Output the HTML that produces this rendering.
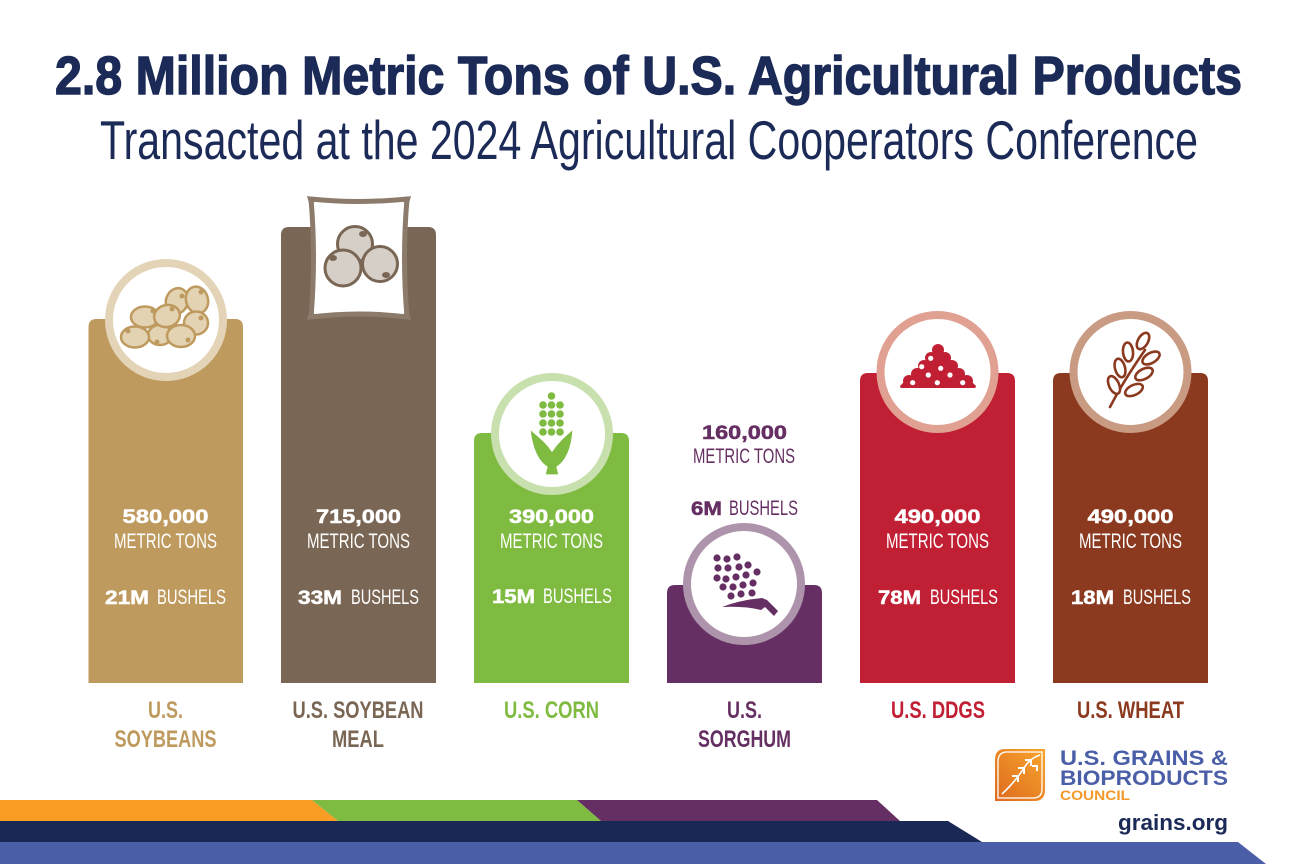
<!DOCTYPE html>
<html>
<head>
<meta charset="utf-8">
<style>
  html,body{margin:0;padding:0;background:#fff;}
  svg{display:block;}
  text{font-family:"Liberation Sans", Arial, sans-serif;}
  .num{font-weight:bold;font-size:19.5px;fill:#fff;stroke:#fff;stroke-width:0.5px;}
  .mt{font-size:21px;fill:#fff;}
  .lbl{font-weight:bold;font-size:24px;}
</style>
</head>
<body>
<svg width="1296" height="864" viewBox="0 0 1296 864" xmlns="http://www.w3.org/2000/svg">
  <defs>
    <linearGradient id="og" x1="0" y1="1" x2="1" y2="0">
      <stop offset="0" stop-color="#DD6A1E"/>
      <stop offset="1" stop-color="#F8A52E"/>
    </linearGradient>
  </defs>
  <rect width="1296" height="864" fill="#fff"/>

  <!-- Titles -->
  <text x="55" y="94" font-size="54" font-weight="bold" fill="#1B2A57" stroke="#1B2A57" stroke-width="1.4" textLength="1187" lengthAdjust="spacingAndGlyphs">2.8 Million Metric Tons of U.S. Agricultural Products</text>
  <text x="100" y="159" font-size="55" fill="#1B2A57" textLength="1098" lengthAdjust="spacingAndGlyphs">Transacted at the 2024 Agricultural Cooperators Conference</text>

  <!-- Bars -->
  <path d="M88.5,683 V327 Q88.5,319 96.5,319 H235 Q243,319 243,327 V683 Z" fill="#BE9A5E"/>
  <path d="M281,683 V235 Q281,227 289,227 H428 Q436,227 436,235 V683 Z" fill="#7A6654"/>
  <path d="M474,683 V441 Q474,433 482,433 H621 Q629,433 629,441 V683 Z" fill="#7FBB41"/>
  <path d="M667,683 V593 Q667,585 675,585 H814 Q822,585 822,593 V683 Z" fill="#662F63"/>
  <path d="M860,683 V381 Q860,373 868,373 H1007 Q1015,373 1015,381 V683 Z" fill="#C11F33"/>
  <path d="M1053,683 V381 Q1053,373 1061,373 H1200 Q1208,373 1208,381 V683 Z" fill="#8B3A1F"/>

  <!-- Circles -->
  <circle cx="166" cy="320" r="57" fill="#fff" stroke="#E3D4B7" stroke-width="8"/>
  <circle cx="552" cy="434" r="57" fill="#fff" stroke="#C8DFAE" stroke-width="8"/>
  <circle cx="744" cy="584" r="57" fill="#fff" stroke="#AE93AC" stroke-width="8"/>
  <circle cx="937.5" cy="372" r="57" fill="#fff" stroke="#E0A193" stroke-width="8"/>
  <circle cx="1130.5" cy="372" r="57" fill="#fff" stroke="#C99B83" stroke-width="8"/>

  <!-- Soybean icon -->
  <g fill="#E3D3B3" stroke="#BE9A5E" stroke-width="2.5">
    <ellipse cx="177" cy="301" rx="11" ry="13" transform="rotate(20 177 301)"/>
    <ellipse cx="197" cy="300" rx="11" ry="13.5" transform="rotate(-15 197 300)"/>
    <ellipse cx="196" cy="323" rx="12" ry="11.5"/>
    <ellipse cx="160" cy="335" rx="12" ry="10"/>
    <ellipse cx="135" cy="337" rx="14" ry="10.5"/>
    <ellipse cx="145" cy="317" rx="14" ry="10.5"/>
    <ellipse cx="181" cy="336" rx="14" ry="11"/>
    <ellipse cx="167" cy="316" rx="13" ry="11" transform="rotate(-15 167 316)"/>
  </g>
  <g fill="#BE9A5E">
    <circle cx="153" cy="311" r="2.5"/><circle cx="172" cy="309" r="2.5"/>
    <circle cx="201" cy="292" r="2.5"/><circle cx="128" cy="331" r="2.5"/>
    <circle cx="157" cy="342" r="2.5"/><circle cx="188" cy="340" r="2.5"/>
    <circle cx="201" cy="318" r="2.5"/><circle cx="182" cy="296" r="2.5"/>
  </g>

  <!-- Soybean meal bag -->
  <path d="M311,199 Q359,204 407,199 Q402,258 407,317 Q359,311 311,317 Q316,258 311,199 Z" fill="#fff" stroke="#8C7B6B" stroke-width="5" stroke-linejoin="round"/>
  <g fill="#8C7B6B">
    <path d="M307,196 L318,198 L310,207 Z"/>
    <path d="M411,196 L400,198 L408,207 Z"/>
    <path d="M307,320 L318,318 L310,309 Z"/>
    <path d="M411,320 L400,318 L408,309 Z"/>
  </g>
  <g fill="#D6CFC7" stroke="#7A6654" stroke-width="3">
    <circle cx="355" cy="244" r="17.5"/>
    <circle cx="343" cy="268" r="18"/>
    <circle cx="380" cy="264" r="17.5"/>
  </g>
  <g fill="#7A6654">
    <ellipse cx="363" cy="234" rx="4" ry="3"/>
    <ellipse cx="333" cy="258" rx="4" ry="3"/>
    <ellipse cx="386" cy="275" rx="4" ry="3"/>
  </g>

  <!-- Corn icon -->
  <g fill="#7FBB41">
    <circle cx="551.5" cy="396" r="3.8"/>
    <circle cx="543" cy="405" r="3.8"/><circle cx="551.5" cy="405" r="3.8"/><circle cx="560" cy="405" r="3.8"/>
    <circle cx="543" cy="414" r="3.8"/><circle cx="551.5" cy="414" r="3.8"/><circle cx="560" cy="414" r="3.8"/>
    <circle cx="543" cy="423" r="3.8"/><circle cx="551.5" cy="423" r="3.8"/><circle cx="560" cy="423" r="3.8"/>
    <circle cx="543" cy="432" r="3.8"/><circle cx="551.5" cy="432" r="3.8"/><circle cx="560" cy="432" r="3.8"/>
    <path d="M530,429 C532,450 539,462 547,467 L545,475 L559,475 L557,467 C565,462 572,450 573,429 C565,436 558,442 552,451 C546,442 538,436 530,429 Z" stroke="#fff" stroke-width="1.2"/>
  </g>

  <!-- Sorghum icon -->
  <g fill="#662F63">
    <circle cx="717" cy="558" r="3.6"/><circle cx="727" cy="559" r="3.6"/><circle cx="737" cy="557" r="3.6"/>
    <circle cx="718" cy="568" r="3.6"/><circle cx="728" cy="568" r="3.6"/><circle cx="739" cy="567" r="3.6"/><circle cx="748" cy="565" r="3.6"/>
    <circle cx="717" cy="578" r="3.6"/><circle cx="726" cy="579" r="3.6"/><circle cx="736" cy="577" r="3.6"/><circle cx="746" cy="575" r="3.6"/><circle cx="757" cy="572" r="3.6"/>
    <circle cx="723" cy="587" r="3.6"/><circle cx="733" cy="587" r="3.6"/><circle cx="743" cy="585" r="3.6"/><circle cx="753" cy="583" r="3.6"/>
    <circle cx="731" cy="596" r="3.6"/><circle cx="741" cy="594" r="3.6"/><circle cx="752" cy="593" r="3.6"/>
    <path d="M722,607 Q740,600 762,598 L767,600 L778,611 L774,616 L765,607 L761,610 Q745,606 722,607 Z"/>
  </g>

  <!-- DDGS pile -->
  <g fill="#C11F33">
    <circle cx="938" cy="350" r="6"/>
    <circle cx="931" cy="358" r="6"/><circle cx="945" cy="358" r="6"/>
    <circle cx="924" cy="366" r="6"/><circle cx="938" cy="366" r="6"/><circle cx="952" cy="366" r="6"/>
    <circle cx="917" cy="374" r="6"/><circle cx="931" cy="374" r="6"/><circle cx="945" cy="374" r="6"/><circle cx="959" cy="374" r="6"/>
    <circle cx="909" cy="381" r="6"/><circle cx="923" cy="381" r="6"/><circle cx="938" cy="381" r="6"/><circle cx="952" cy="381" r="6"/><circle cx="967" cy="381" r="6"/>
    <path d="M938,350 L970,380 L976,386 Q976,388 974,388 L902,388 Q900,388 900,386 L906,380 Z"/>
  </g>
  <g fill="#fff">
    <circle cx="930.7" cy="358.3" r="2.6"/><circle cx="921.7" cy="366.7" r="2.6"/><circle cx="940.7" cy="368.3" r="2.6"/>
    <circle cx="928.3" cy="375" r="2.6"/><circle cx="950" cy="375" r="2.6"/><circle cx="912.7" cy="382.7" r="2.6"/>
    <circle cx="937.3" cy="382.7" r="2.6"/><circle cx="962.7" cy="382.7" r="2.6"/>
  </g>

  <!-- Wheat icon -->
  <g fill="#fff" stroke="#8B3A1F" stroke-width="2.6" stroke-linecap="round">
    <path d="M1110,407 Q1124,380 1145,350" fill="none"/>
    <ellipse cx="1143" cy="341" rx="5" ry="9" transform="rotate(30 1143 341)"/>
    <ellipse cx="1128" cy="352" rx="5" ry="9.5" transform="rotate(-5 1128 352)"/>
    <ellipse cx="1120" cy="368" rx="5" ry="9.5" transform="rotate(-15 1120 368)"/>
    <ellipse cx="1114" cy="385" rx="5" ry="9.5" transform="rotate(-25 1114 385)"/>
    <ellipse cx="1151" cy="358" rx="5" ry="9.5" transform="rotate(60 1151 358)"/>
    <ellipse cx="1144" cy="374" rx="5" ry="9.5" transform="rotate(62 1144 374)"/>
    <ellipse cx="1134" cy="390" rx="5" ry="9.5" transform="rotate(64 1134 390)"/>
  </g>

  <!-- Bar texts -->
  <g text-anchor="middle">
    <text class="num" x="165.5" y="523" textLength="86" lengthAdjust="spacingAndGlyphs">580,000</text>
    <text class="mt" x="165.5" y="548" textLength="103" lengthAdjust="spacingAndGlyphs">METRIC TONS</text>
    <text class="num" x="358.5" y="523" textLength="85" lengthAdjust="spacingAndGlyphs">715,000</text>
    <text class="mt" x="358.5" y="548" textLength="103" lengthAdjust="spacingAndGlyphs">METRIC TONS</text>
    <text class="num" x="551.5" y="523" textLength="85" lengthAdjust="spacingAndGlyphs">390,000</text>
    <text class="mt" x="551.5" y="548" textLength="103" lengthAdjust="spacingAndGlyphs">METRIC TONS</text>
    <text class="num" x="744.5" y="439" textLength="85" lengthAdjust="spacingAndGlyphs" style="fill:#662F63;stroke:#662F63">160,000</text>
    <text class="mt" x="744" y="463" textLength="102" lengthAdjust="spacingAndGlyphs" style="fill:#662F63">METRIC TONS</text>
    <text class="num" x="937.5" y="523" textLength="86" lengthAdjust="spacingAndGlyphs">490,000</text>
    <text class="mt" x="937.5" y="548" textLength="103" lengthAdjust="spacingAndGlyphs">METRIC TONS</text>
    <text class="num" x="1130.5" y="523" textLength="86" lengthAdjust="spacingAndGlyphs">490,000</text>
    <text class="mt" x="1130.5" y="548" textLength="103" lengthAdjust="spacingAndGlyphs">METRIC TONS</text>
  </g>
  <g>
    <text class="num" x="105" y="604" textLength="44" lengthAdjust="spacingAndGlyphs">21M</text>
    <text class="mt" x="157" y="604" textLength="69" lengthAdjust="spacingAndGlyphs">BUSHELS</text>
    <text class="num" x="298" y="604" textLength="44" lengthAdjust="spacingAndGlyphs">33M</text>
    <text class="mt" x="351" y="604" textLength="68" lengthAdjust="spacingAndGlyphs">BUSHELS</text>
    <text class="num" x="492" y="603" textLength="43" lengthAdjust="spacingAndGlyphs">15M</text>
    <text class="mt" x="543" y="603" textLength="69" lengthAdjust="spacingAndGlyphs">BUSHELS</text>
    <text class="num" x="691" y="515" textLength="31" lengthAdjust="spacingAndGlyphs" style="fill:#662F63;stroke:#662F63">6M</text>
    <text class="mt" x="729" y="515" textLength="69" lengthAdjust="spacingAndGlyphs" style="fill:#662F63">BUSHELS</text>
    <text class="num" x="878" y="604" textLength="43" lengthAdjust="spacingAndGlyphs">78M</text>
    <text class="mt" x="930" y="604" textLength="68" lengthAdjust="spacingAndGlyphs">BUSHELS</text>
    <text class="num" x="1071" y="604" textLength="43" lengthAdjust="spacingAndGlyphs">18M</text>
    <text class="mt" x="1123" y="604" textLength="68" lengthAdjust="spacingAndGlyphs">BUSHELS</text>
  </g>

  <!-- Labels -->
  <g text-anchor="middle" class="lbl">
    <text class="lbl" x="165.5" y="718" fill="#BE9A5E" textLength="35" lengthAdjust="spacingAndGlyphs">U.S.</text>
    <text class="lbl" x="165.5" y="747" fill="#BE9A5E" textLength="102" lengthAdjust="spacingAndGlyphs">SOYBEANS</text>
    <text class="lbl" x="358" y="718" fill="#7A6654" textLength="131" lengthAdjust="spacingAndGlyphs">U.S. SOYBEAN</text>
    <text class="lbl" x="358" y="747" fill="#7A6654" textLength="52" lengthAdjust="spacingAndGlyphs">MEAL</text>
    <text class="lbl" x="551.5" y="718" fill="#7FBB41" textLength="95" lengthAdjust="spacingAndGlyphs">U.S. CORN</text>
    <text class="lbl" x="744.5" y="718" fill="#662F63" textLength="35" lengthAdjust="spacingAndGlyphs">U.S.</text>
    <text class="lbl" x="744.5" y="747" fill="#662F63" textLength="93" lengthAdjust="spacingAndGlyphs">SORGHUM</text>
    <text class="lbl" x="938" y="718" fill="#C11F33" textLength="94" lengthAdjust="spacingAndGlyphs">U.S. DDGS</text>
    <text class="lbl" x="1130.5" y="718" fill="#8B3A1F" textLength="107" lengthAdjust="spacingAndGlyphs">U.S. WHEAT</text>
  </g>

  <!-- Logo -->
  <path d="M1005,749 H1045 V790 Q1045,801 1034,801 H995 V760 Q995,749 1005,749 Z" fill="url(#og)"/>
  <path d="M1007,752 H1042 V789 Q1042,798 1033,798 H998 V762 Q998,752 1007,752 Z" fill="none" stroke="#fff" stroke-width="1.3"/>
  <path d="M1002,794 Q1015,782 1024,768 Q1030,758 1040,755" fill="none" stroke="#fff" stroke-width="1.6"/>
  <g fill="none" stroke="#fff" stroke-width="2">
    <path d="M1025,760 h6 v6"/>
    <path d="M1018,768 h6 v6"/>
    <path d="M1012,776 h6 v6"/>
    <path d="M1032,766 h5 v5"/>
  </g>
  <text x="1060" y="765" font-size="21" font-weight="bold" fill="#4B5FA8" textLength="168" lengthAdjust="spacingAndGlyphs">U.S. GRAINS &amp;</text>
  <text x="1060" y="785" font-size="21" font-weight="bold" fill="#4B5FA8" textLength="168" lengthAdjust="spacingAndGlyphs">BIOPRODUCTS</text>
  <text x="1060" y="800" font-size="14" font-weight="bold" fill="#F39A2A" textLength="70" lengthAdjust="spacingAndGlyphs">COUNCIL</text>
  <text x="1118" y="830" font-size="22" font-weight="bold" fill="#1B2A57" textLength="110" lengthAdjust="spacingAndGlyphs">grains.org</text>

  <!-- Bottom bands -->
  <polygon points="0,800 312,800 338,821 0,821" fill="#F89C24"/>
  <polygon points="312,800 577,800 601,821 338,821" fill="#7FBB41"/>
  <polygon points="577,800 877,800 900,821 601,821" fill="#662F63"/>
  <polygon points="0,821 948,821 982,842 0,842" fill="#1A2856"/>
  <polygon points="0,842 1238,842 1266,864 0,864" fill="#4B5FA8"/>
</svg>
</body>
</html>
